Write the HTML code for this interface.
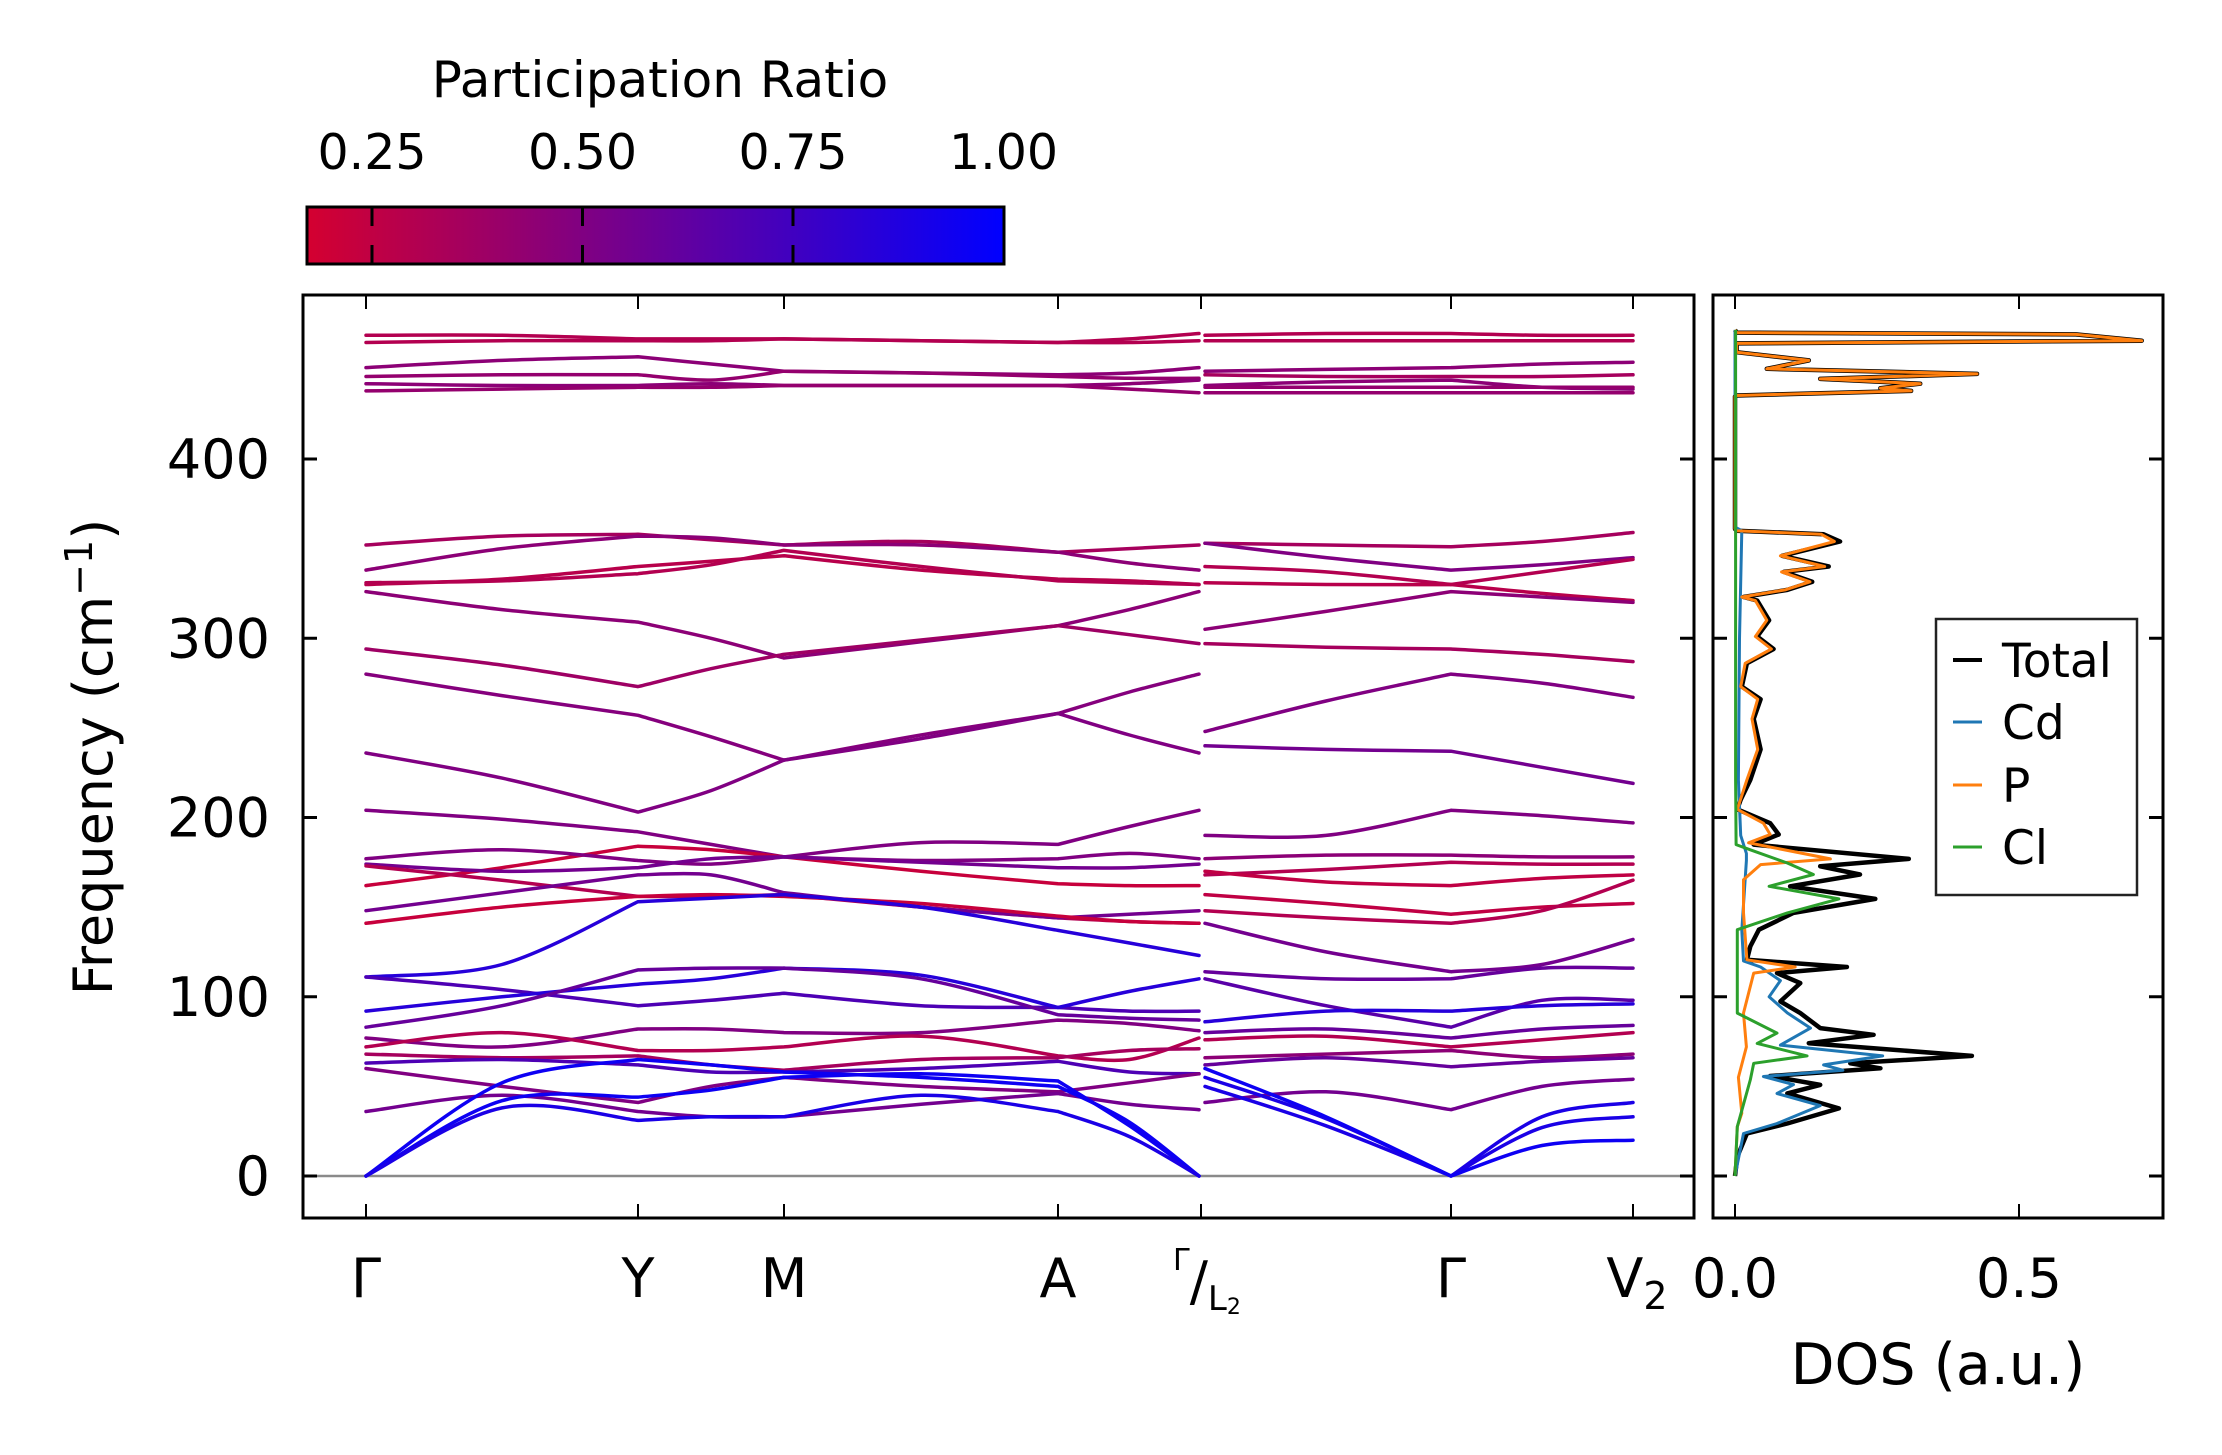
<!DOCTYPE html>
<html>
<head>
<meta charset="utf-8">
<style>
  html, body { margin:0; padding:0; background:#fff; }
  svg { display:block; font-family: "DejaVu Sans", "Liberation Sans", sans-serif; }
</style>
</head>
<body>
<svg id="fig" width="2222" height="1455" viewBox="0 0 2222 1455" xmlns="http://www.w3.org/2000/svg">
  <defs>
    <linearGradient id="cmap" x1="0" x2="1" y1="0" y2="0">
      <stop offset="0" stop-color="rgb(212,0,48)"/>
      <stop offset="1" stop-color="rgb(0,0,255)"/>
    </linearGradient>
    <clipPath id="mainClip"><rect x="303" y="295" width="1391" height="923"/></clipPath>
    <clipPath id="dosClip"><rect x="1713" y="295" width="450" height="923"/></clipPath>
  </defs>
  <rect width="2222" height="1455" fill="#fff"/>

  <g>
    <text x="660" y="97" font-size="50" text-anchor="middle">Participation Ratio</text>
    <rect x="307" y="207" width="697" height="57" fill="url(#cmap)" stroke="#000" stroke-width="3"/>
    <g id="cbTicks"></g>
  </g>

  <g id="mainBands" clip-path="url(#mainClip)"></g>
  <g id="mainAxes"></g>
  <g id="dosLines" clip-path="url(#dosClip)"></g>
  <g id="dosAxes"></g>

  <text transform="translate(112,757) rotate(-90)" font-size="54" text-anchor="middle">Frequency (cm<tspan font-size="38" dy="-20">−1</tspan><tspan dy="20">)</tspan></text>
  <text x="1938" y="1384" font-size="57" text-anchor="middle">DOS (a.u.)</text>

  <g>
    <rect x="1936" y="619" width="201" height="276" fill="#fff" stroke="#222" stroke-width="2.5"/>
    <line x1="1953" y1="660" x2="1982" y2="660" stroke="#000" stroke-width="4"/>
    <text x="2002" y="677" font-size="47">Total</text>
    <line x1="1953" y1="722" x2="1982" y2="722" stroke="#1f77b4" stroke-width="3"/>
    <text x="2002" y="739" font-size="47">Cd</text>
    <line x1="1953" y1="785" x2="1982" y2="785" stroke="#ff7f0e" stroke-width="3"/>
    <text x="2002" y="802" font-size="47">P</text>
    <line x1="1953" y1="847" x2="1982" y2="847" stroke="#2ca02c" stroke-width="3"/>
    <text x="2002" y="864" font-size="47">Cl</text>
  </g>
</svg>
<script>
// ---------- data ----------
const kLabels = ["Γ","Y","M","A","Γ/L2","Γ","V2"];
const yTicks = [0,100,200,300,400];
const cbTicks = [0.25,0.50,0.75,1.00];
const cbTickLabels = ["0.25","0.50","0.75","1.00"];
const dosTicks = [0.0,0.5];
const dosTickLabels = ["0.0","0.5"];

// Part 1: Γ, mid, Y, mid, M, mid, A, mid, Γ
const bandsA = [
 [469,469,467,467,467,466,465,467,470],
 [465,466,466,466,467,466,465,465,466],
 [451,455,457,453,449,448,447,448,451],
 [446,447,447,444,449,448,446,445,445],
 [442,441,441,442,441,441,441,442,444],
 [438,439,440,440,441,441,441,439,437],
 [352,357,358,355,352,354,348,350,352],
 [338,350,357,356,352,352,348,342,338],
 [330,333,340,343,346,338,333,332,330],
 [331,332,336,341,349,340,332,331,330],
 [326,316,309,300,289,298,307,316,326],
 [294,285,273,283,291,299,307,302,297],
 [280,268,257,245,232,246,258,270,280],
 [236,222,203,215,232,244,258,246,236],
 [204,199,192,185,178,186,185,195,204],
 [162,172,184,182,178,170,163,162,162],
 [177,182,176,174,178,176,177,180,177],
 [174,170,172,177,178,175,172,172,174],
 [173,165,156,156,157,150,144,142,141],
 [148,158,168,168,158,150,144,146,148],
 [141,150,156,157,156,152,145,142,141],
 [111,118,153,155,157,150,137,130,123],
 [111,104,95,98,102,95,94,92,92],
 [92,100,107,110,116,112,94,103,110],
 [83,95,115,116,116,110,90,88,87],
 [77,72,82,82,80,80,87,85,81],
 [72,80,70,70,72,78,67,65,77],
 [68,66,67,62,59,65,66,70,71],
 [63,65,62,58,58,60,64,58,57],
 [60,50,41,50,55,50,47,52,57],
 [36,45,36,33,33,40,46,40,37],
 [0,52,65,62,58,55,50,30,0],
 [0,42,44,48,55,57,53,28,0],
 [0,38,31,33,33,45,36,22,0]
];
const prA = [0.3,0.3,0.45,0.42,0.45,0.42,0.35,0.45,0.28,0.3,0.45,0.38,0.48,0.5,
 0.5,0.22,0.5,0.55,0.3,0.55,0.22,0.85,0.7,0.85,0.6,0.5,0.3,0.35,0.7,0.5,0.55,0.95,0.95,0.9];

// Part 2: L2, mid, Γ, mid, V2
const bandsB = [
 [469,470,470,469,469],
 [466,466,466,466,466],
 [449,450,451,453,454],
 [447,446,446,446,447],
 [441,443,444,440,439],
 [440,440,440,440,440],
 [437,437,437,437,437],
 [353,352,351,354,359],
 [353,345,338,341,345],
 [340,337,330,337,344],
 [331,330,330,325,321],
 [305,315,326,323,320],
 [297,295,294,291,287],
 [248,265,280,275,267],
 [240,238,237,228,219],
 [190,190,204,201,197],
 [177,179,179,178,178],
 [168,171,175,174,174],
 [170,164,162,166,168],
 [157,152,146,150,152],
 [148,144,141,148,165],
 [141,125,114,118,132],
 [114,110,110,116,116],
 [110,95,83,98,98],
 [86,92,92,95,96],
 [80,82,77,82,84],
 [76,78,72,76,80],
 [66,68,70,66,68],
 [62,66,61,64,66],
 [41,47,37,50,54],
 [55,32,0,33,41],
 [50,28,0,27,33],
 [60,33,0,17,20]
];
const prB = [0.3,0.3,0.45,0.35,0.45,0.42,0.42,0.35,0.5,0.3,0.28,0.45,0.35,0.5,0.55,
 0.5,0.45,0.3,0.25,0.25,0.3,0.55,0.6,0.65,0.85,0.6,0.3,0.45,0.6,0.55,0.9,0.9,0.95];

// DOS
const totalFreq = [0,10.7,23.7,29.3,37.7,46.1,50.8,55.8,60.1,62.9,67,74.1,78.8,82.5,90.9,97.4,107.6,113.2,116.6,120.6,128.1,137.4,146.8,154.6,161.6,168.2,172.8,176.9,184.9,190.5,196.8,204.6,210,221,238,255,266,273,286,294,301,310,321,323,327,331.5,337,340,346,354,358,360,361,435,435.4,438,439.5,442,444.7,447.5,450.3,455,459.6,464.5,466,469.5,470.5,472];
const totalVal = [0,.004,.021,.092,.183,.092,.15,.062,.256,.203,.417,.13,.244,.15,.115,.08,.115,.074,.197,.021,.027,.042,.103,.247,.097,.22,.15,.306,.033,.077,.062,.004,.01,.027,.045,.033,.045,.012,.021,.068,.039,.06,.039,.015,.092,.136,.086,.165,.083,.185,.156,.003,0,0,.003,.31,.256,.326,.15,.426,.056,.13,.003,.003,.716,.6,.003,0];
const cdFreq = [0,23.7,29.3,39.3,46,51,55.5,59,62,67,73,82.5,91,100,109,116.6,120,137,176,180,190,221,300,360,362,472];
const cdVal = [0,.015,.074,.15,.074,.103,.05,.19,.156,.26,.08,.133,.092,.06,.08,.045,.015,.012,.02,.02,.01,.006,.008,.012,0,0];
const pFreq = [0,27.5,35,55,72,90.9,113.2,116.6,120.6,146.8,165.3,173.7,176.9,185.9,190.5,196.8,204.6,221,238,255,266,273,286,294,301,310,321,323,327,331.5,337,340,346,354,358,360,361,435,435.4,438,439.5,442,444.7,447.5,450.3,455,459.6,464.5,466,469.5,470.5,472];
const pVal = [0,.004,.012,.006,.02,.015,.033,.106,.021,.015,.015,.045,.168,.024,.062,.05,.004,.021,.04,.03,.04,.01,.018,.064,.036,.056,.036,.012,.088,.132,.082,.158,.08,.175,.152,.002,0,0,.003,.31,.256,.326,.15,.426,.056,.13,.003,.003,.716,.6,.003,0];
const clFreq = [0,27.5,53.6,62.9,67,74,79.7,90.9,116.8,137.4,146.8,154.6,161.6,168.2,174.6,182,184.9,221,472];
const clVal = [0,.004,.027,.033,.127,.039,.074,.004,.004,.004,.092,.183,.06,.138,.092,.027,.002,.001,.001];

// ---------- layout ----------
const NS = "http://www.w3.org/2000/svg";
const main = {l:303, r:1694, t:295, b:1218};
const dos = {l:1713, r:2163};
const kX = [366, 638, 784, 1058, 1201, 1451, 1633];
function yS(f){ return 1176 - f*1.7925; }
function dS(v){ return 1735 + v*568; }
function cbS(v){ return 372 + (v-0.25)*842; }
function prColor(pr){
  let t = (pr-0.17)/0.83; t = Math.max(0, Math.min(1, t));
  const r = Math.round(212*(1-t)), b = Math.round(48 + 207*t);
  return `rgb(${r},0,${b})`;
}
function el(tag, attrs, parent){
  const e = document.createElementNS(NS, tag);
  for (const k in attrs) e.setAttribute(k, attrs[k]);
  parent.appendChild(e);
  return e;
}
// smooth within each segment (node, mid, node); kinks allowed at nodes
function segPath(pts){
  let d = `M${pts[0][0]},${pts[0][1].toFixed(1)}`;
  for (let s=0; s+2<pts.length; s+=2){
    const seg = [pts[s], pts[s+1], pts[s+2]];
    for (let i=0;i<2;i++){
      const p0 = seg[i-1]||seg[i], p1=seg[i], p2=seg[i+1], p3=seg[i+2]||seg[i+1];
      const c1x = p1[0]+(p2[0]-p0[0])/6, c1y = p1[1]+(p2[1]-p0[1])/6;
      const c2x = p2[0]-(p3[0]-p1[0])/6, c2y = p2[1]-(p3[1]-p1[1])/6;
      d += ` C${c1x.toFixed(1)},${c1y.toFixed(1)} ${c2x.toFixed(1)},${c2y.toFixed(1)} ${p2[0]},${p2[1].toFixed(1)}`;
    }
  }
  return d;
}

const cbG = document.getElementById('cbTicks');
cbTicks.forEach((v,i)=>{
  const x = cbS(v);
  if (v < 1) {
    const t1 = el('line',{x1:x,y1:207,x2:x,y2:226,stroke:'#000','stroke-width':3},cbG);
    
    
    const t2 = el('line',{x1:x,y1:245,x2:x,y2:264,stroke:'#000','stroke-width':3},cbG);
    
    
  }
  const tx = el('text',{x:x,y:169,'font-size':49,'text-anchor':'middle'},cbG);
  tx.textContent = cbTickLabels[i];
  
  
});

const bg = document.getElementById('mainBands');
const xA = [];
for (let s=0;s<4;s++){ xA.push(kX[s]); xA.push((kX[s]+kX[s+1])/2); }
xA.push(kX[4]-2);
const xB = [kX[4]+4, (kX[4]+kX[5])/2, kX[5], (kX[5]+kX[6])/2, kX[6]];
const zl = el('line',{x1:main.l,y1:yS(0),x2:main.r,y2:yS(0),stroke:'#8a8a8a','stroke-width':2.5},bg);


function drawBands(bands, prs, xs, part){
  bands.forEach((b,i)=>{
    const pts = b.map((f,j)=>[xs[j], yS(f)]);
    const p = el('path',{d:segPath(pts),fill:'none',stroke:prColor(prs[i]),'stroke-width':3.5,'stroke-linecap':'round'},bg);
    
    
  });
}
drawBands(bandsA, prA, xA, 'a');
drawBands(bandsB, prB, xB, 'b');

const ag = document.getElementById('mainAxes');
const fr = el('rect',{x:main.l,y:main.t,width:main.r-main.l,height:main.b-main.t,fill:'none',stroke:'#000','stroke-width':3},ag);


yTicks.forEach(f=>{
  const y = yS(f);
  const t1 = el('line',{x1:main.l,y1:y,x2:main.l+14,y2:y,stroke:'#000','stroke-width':3},ag);
  
  
  const t2 = el('line',{x1:main.r-14,y1:y,x2:main.r,y2:y,stroke:'#000','stroke-width':3},ag);
  
  
  const tx = el('text',{x:270,y:y+19,'font-size':54,'text-anchor':'end'},ag);
  tx.textContent = String(f);
  
  
});
kX.forEach((x,i)=>{
  const t1 = el('line',{x1:x,y1:main.b,x2:x,y2:main.b-14,stroke:'#000','stroke-width':2},ag);
  
  
  const t2 = el('line',{x1:x,y1:main.t,x2:x,y2:main.t+14,stroke:'#000','stroke-width':2},ag);
  
  
  const lab = kLabels[i];
  let tx;
  if (lab === "Γ/L2"){
    tx = el('text',{x:x-28,y:1300,'font-size':54},ag);
    tx.innerHTML = '<tspan font-size="30" dy="-30">Γ</tspan><tspan dy="30">/</tspan><tspan font-size="34" dy="10">L</tspan><tspan font-size="22" dy="4">2</tspan>';
  } else if (lab === "V2"){
    tx = el('text',{x:x+4,y:1297,'font-size':54,'text-anchor':'middle'},ag);
    tx.innerHTML = 'V<tspan font-size="38" dy="12">2</tspan>';
  } else {
    tx = el('text',{x:x,y:1297,'font-size':54,'text-anchor':'middle'},ag);
    tx.textContent = lab;
  }
  
  
});

const dg = document.getElementById('dosLines');
function drawDos(fr, vals, color, w, name){
  const pts = fr.map((f,i)=>`${dS(vals[i]).toFixed(1)},${yS(f).toFixed(1)}`).join(' ');
  const pl = el('polyline',{points:pts,fill:'none',stroke:color,'stroke-width':w,'stroke-linejoin':'round'},dg);
  
  
}
drawDos(totalFreq, totalVal, '#000', 4.5, 'dos-total-line');
drawDos(cdFreq, cdVal, '#1f77b4', 3, 'dos-cd-line');
drawDos(pFreq, pVal, '#ff7f0e', 3, 'dos-p-line');
drawDos(clFreq, clVal, '#2ca02c', 3, 'dos-cl-line');

const dag = document.getElementById('dosAxes');
const dfr = el('rect',{x:dos.l,y:main.t,width:dos.r-dos.l,height:main.b-main.t,fill:'none',stroke:'#000','stroke-width':3},dag);


yTicks.forEach(f=>{
  const y = yS(f);
  const t1 = el('line',{x1:dos.l,y1:y,x2:dos.l+14,y2:y,stroke:'#000','stroke-width':3},dag);
  
  
  const t2 = el('line',{x1:dos.r-14,y1:y,x2:dos.r,y2:y,stroke:'#000','stroke-width':3},dag);
  
  
});
dosTicks.forEach((v,i)=>{
  const x = dS(v);
  const t1 = el('line',{x1:x,y1:main.b,x2:x,y2:main.b-14,stroke:'#000','stroke-width':2},dag);
  
  
  const t2 = el('line',{x1:x,y1:main.t,x2:x,y2:main.t+14,stroke:'#000','stroke-width':2},dag);
  
  
  const tx = el('text',{x:x,y:1297,'font-size':54,'text-anchor':'middle'},dag);
  tx.textContent = dosTickLabels[i];
  
  
});
</script>
</body>
</html>
